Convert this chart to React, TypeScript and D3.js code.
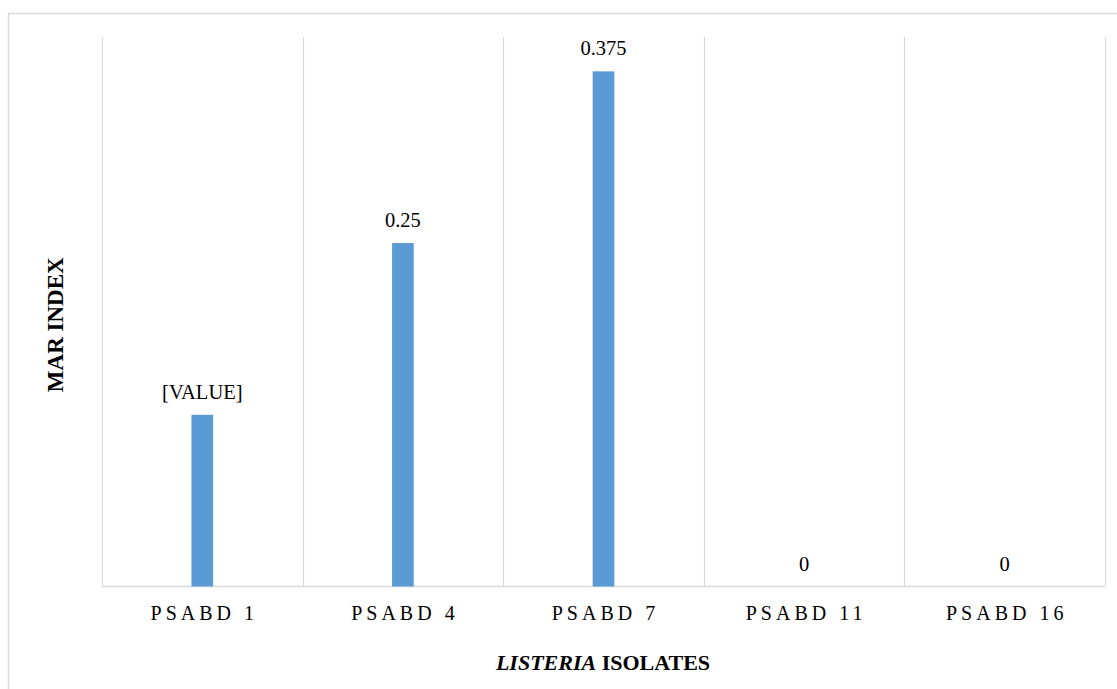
import React from "react";
import * as d3 from "d3";

const categories = ["PSABD 1", "PSABD 4", "PSABD 7", "PSABD 11", "PSABD 16"];
const values = [0.125, 0.25, 0.375, 0, 0];
const valueLabels = ["[VALUE]", "0.25", "0.375", "0", "0"];
const yDomain = [0, 0.4];

const W = 1117;
const H = 689;
const plot = { left: 102, right: 1105, top: 37, bottom: 586.5 };
const FONT = "Liberation Serif";

export default function App() {
  const x = d3.scaleBand<string>().domain(categories).range([plot.left, plot.right]).padding(0);
  const y = d3.scaleLinear().domain(yDomain).range([plot.bottom, plot.top]);
  const bw = x.bandwidth() * 0.108;
  const edges = [...categories.map((c) => x(c)!), plot.right];
  const ls = 4;

  return (
    <svg
      width={W}
      height={H}
      style={{ position: "absolute", left: 0, top: 0, background: "#fff" }}
    >
      <rect x={8.5} y={13.5} width={1200} height={800} fill="#fff" stroke="#d9d9d9" strokeWidth={1.5} />
      {edges.map((e, i) => (
        <line key={i} x1={Math.round(e) + 0.5} x2={Math.round(e) + 0.5} y1={plot.top} y2={plot.bottom} stroke="#d9d9d9" strokeWidth={1.2} />
      ))}
      <line x1={plot.left} x2={plot.right} y1={plot.bottom} y2={plot.bottom} stroke="#d9d9d9" strokeWidth={1.5} />
      {categories.map((c, i) => {
        const cx = x(c)! + x.bandwidth() / 2;
        return (
          <g key={c}>
            {values[i] > 0 && (
              <rect x={cx - bw / 2} y={y(values[i])} width={bw} height={plot.bottom - y(values[i])} fill="#5b9bd5" />
            )}
            <text x={cx} y={y(values[i]) - 16} textAnchor="middle" fontFamily={FONT} fontSize={20.5} fill="#000">
              {valueLabels[i]}
            </text>
            <text
              x={cx + ls / 2}
              y={620}
              textAnchor="middle"
              fontFamily={FONT}
              fontSize={20}
              letterSpacing={ls}
              fill="#000"
            >
              {c}
            </text>
          </g>
        );
      })}
      <text
        transform={`translate(63, ${(plot.top + plot.bottom) / 2 + 13}) rotate(-90)`}
        textAnchor="middle"
        fontFamily={FONT}
        fontSize={23}
        fontWeight="bold"
        fill="#000"
      >
        MAR INDEX
      </text>
      <text x={603} y={670} textAnchor="middle" fontFamily={FONT} fontSize={22} fontWeight="bold" fill="#000">
        <tspan fontStyle="italic">LISTERIA</tspan> ISOLATES
      </text>
    </svg>
  );
}
